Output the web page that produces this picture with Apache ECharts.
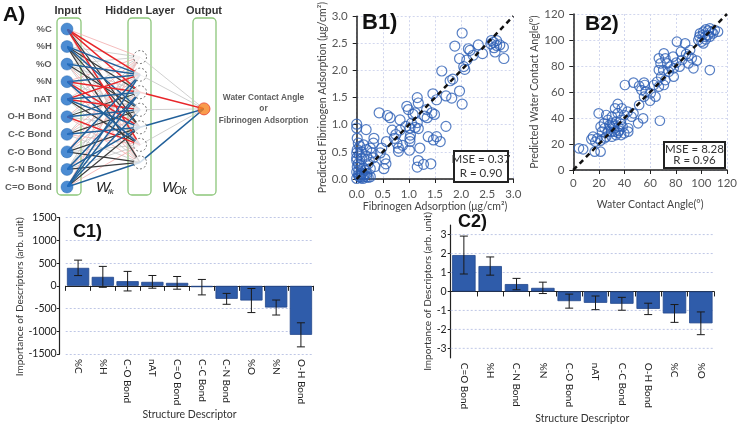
<!DOCTYPE html>
<html><head><meta charset="utf-8">
<script src="https://cdn.jsdelivr.net/npm/echarts@6/dist/echarts.min.js"></script>
<style>html,body{margin:0;padding:0;background:#fff}#c{width:740px;height:425px}</style>
</head><body><div id="c"></div>
<script>
// ---------- Panel A: network ----------
const inputNames = ['%C','%H','%O','%N','nAT','O-H Bond','C-C Bond','C-O Bond','C-N Bond','C=O Bond'];
const layerPos = [0, 0.533, 1];
const hiddenSlots = [1.6, 2.6, 3.6, 4.6, 5.6, 6.6, 7.6];
const outputSlot = 4.55;
const inputToHidden = ['prrgkrp','gbkbkgk','gbgkgpg','pbrgrbp','grbrbkg','pgkbgrp','gpgkbpg','pbpgkgk','ggbpbgk','pbbbkpb'];
const hiddenToOutput = 'ggrgbgb';
const outputName = 'Water Contact Angle\nor\nFibrinogen Adsorption';

// ---------- Panel B1 ----------
const b1Measured = [2.02,1.88,1.97,2.11,2.05,2.07,2.14,2.23,2.33,2.41,2.57,2.62,2.68,2.74,2.63,2.82,2.68,2.58,2.81,2.65,2.17,
1.63,1.79,1.84,1.97,2.02,1.71,1.82,1.46,1.53,1.16,1.18,0.96,0.99,1.12,1.34,1.44,1.30,0.43,0.59,0.64,0.83,1.49,1.35,1.05,1.16,1.12,0.94,1.02,1.18,
0.83,0.75,0.72,1.03,1.02,1.37,1.53,1.47,1.60,1.71,1.21,1.02,0.77,0.80,0.80,0.57,0.48,1.01,0.32,0.45,0.54,0.56,0.52,1.18,1.16,1.28,1.42,0.18,
0.00,0.00,0.01,0.03,0.06,0.01,0.05,0.13,0.19,0.26,0.33,0.32,0.29,0.19,0.10,0.03,0.01,0.00,0.03,0.06,0.13,0.19,0.10,0.16,0.26,0.22,0.35,0.00,
0.05,0.00,0.00,0.00,0.06,0.13,0.19,0.26,0.08,0.15,0.12,0.22,0.04,0.09,0.24,1.08,0.88,0.68];
const b1Predicted = [2.69,2.45,2.22,2.19,2.07,2.02,2.40,2.28,2.47,2.31,2.49,2.52,2.46,2.47,2.42,2.22,2.55,2.55,2.43,2.34,2.37,
1.99,1.81,1.84,1.62,1.38,1.53,1.49,1.57,1.46,1.50,1.40,1.34,1.28,1.22,1.28,1.22,1.16,1.22,1.17,1.13,1.09,1.19,1.13,1.03,1.04,0.95,0.97,0.94,0.93,
0.90,0.82,0.75,0.81,0.75,0.78,0.78,0.72,0.69,0.97,0.57,0.69,0.66,0.57,0.51,0.69,0.57,0.53,0.39,0.48,0.37,0.28,0.19,0.34,0.22,0.27,0.28,0.91,
1.01,0.94,0.75,0.66,0.60,0.54,0.45,0.63,0.54,0.57,0.75,0.66,0.48,0.42,0.37,0.28,0.22,0.13,0.07,0.04,0.04,0.04,0.10,0.16,0.19,0.28,0.23,0.01,
0.05,0.39,0.48,0.34,0.25,0.19,0.10,0.04,0.02,0.08,0.01,0.03,0.15,0.50,0.35,1.19,0.62,0.90];
const b1Stats = 'MSE = 0.37\nR = 0.90';

// ---------- Panel B2 ----------
const b2Measured = [98.9,101.5,103.5,105.3,106.6,107.9,110.5,113,102.8,105.3,101,97.6,100.2,103.5,106.6,109.2,101.5,98.4,106.6,96.4,93.8,92.5,89.9,88.1,87.3,80.9,84,91.2,89.9,84.9,83,80.4,77.9,78.4,
70.7,71.9,66.8,68.1,73.3,75.8,74.5,70.2,66.8,68.6,71.9,78.4,65.5,62.9,66.8,70.7,55.2,55.8,47,51.4,40.3,53.2,56.5,59.9,64.2,60.4,55.2,51.4,54.5,50.6,67.6,47,45.5,42.4,42.9,39.8,37.8,34.7,32.6,34.7,30.1,
19.8,25.7,27,23.9,30.1,33.4,37.3,29,32.1,35.2,38.5,32.1,35.7,29.5,27,24.4,21.3,22.4,39.8,42.9,37.3,33.4,30.1,25.7,18.8,15.4,14.1,17.2,21.3,24.4,21.3,16.7,4.4,7.7,28.3,31.6,37.3,34.9];
const b2Predicted = [105.1,106.4,108.2,107.2,109,106.4,107.7,106.4,102.6,103.8,103.8,100,98.7,100.5,102.6,105.1,97.4,102.6,76.9,84.1,78.2,85.9,82,89.2,97.4,98.7,91,92.3,87.7,84.6,79.5,82.6,87.2,78.2,
89.7,85.9,85.9,82,82,79.5,75.6,76.9,76.9,71.8,69.2,71.8,67.9,65.4,64.1,65.4,67.2,65.4,67.2,64.6,65.4,61.5,60.3,53.3,56.4,59,56.4,50,39.7,35.9,37.9,43.6,41,44.9,32.1,42.3,47.4,50.8,47.4,43.6,41,
43.6,42.3,38.5,35.9,35.9,37.2,38.5,33.3,32.1,33.3,33.3,29.5,30.3,29.5,29.5,32.1,33.3,29.5,28.2,29.5,26.9,26.9,25.6,25.6,24.4,25.6,23.6,21.8,22.6,24.4,14.1,14.1,16.7,15.9,34.6,33.8,35.4,28.7];
const b2Stats = 'MSE = 8.28\nR = 0.96';

// ---------- Panel C1 ----------
const c1Categories = ['%C','%H','C-O Bond','nAT','C=O Bond','C-C Bond','C-N Bond','%O','%N','O-H Bond'];
const c1Values = [396, 198, 103, 88, 66, -29, -286, -323, -477, -1078];
const c1Errors = [170, 230, 215, 140, 140, 170, 120, 265, 165, 265];

// ---------- Panel C2 ----------
const c2Categories = ['C=O Bond','%H','C-N Bond','%N','C-O Bond','nAT','C-C Bond','O-H Bond','%C','%O'];
const c2Values = [1.92, 1.34, 0.39, 0.19, -0.51, -0.60, -0.65, -0.92, -1.16, -1.68];
const c2Errors = [1.0, 0.48, 0.30, 0.30, 0.37, 0.36, 0.34, 0.30, 0.47, 0.60];
const c2Ticks = [-3,-2,-1,0,1,2,3];
const c2GridLines = [-3,-2,-1,1,2,3];

// ---------------- build ----------------
const FONT = 'Lato, "Liberation Sans", sans-serif';
const BOLD = '"Liberation Sans", Arial, sans-serif';
const GRIDC = '#bfc7e6';
const edgeStyle = {
  g:{color:'#c4c4c4',width:0.8,o:0}, p:{color:'#f3abab',width:0.8,o:0},
  k:{color:'#3a3a3a',width:1.2,o:1}, r:{color:'#e8262a',width:1.5,o:2}, b:{color:'#22609a',width:1.5,o:2}
};
const edges = [];
inputToHidden.forEach((row,i)=>{
  row.split('').forEach((c,j)=>{
    edges.push({o:edgeStyle[c].o, coords:[[layerPos[0], i],[layerPos[1], hiddenSlots[j]]], lineStyle:{color:edgeStyle[c].color,width:edgeStyle[c].width,opacity:1}});
  });
});
hiddenToOutput.split('').forEach((c,j)=>{
  edges.push({o:edgeStyle[c].o, coords:[[layerPos[1], hiddenSlots[j]],[layerPos[2], outputSlot]], lineStyle:{color:edgeStyle[c].color,width:edgeStyle[c].width,opacity:1}});
});
edges.sort((a,b)=>a.o-b.o);

function pairs(xs, ys){ return xs.map((x,i)=>[x, ys[i]]); }
function errData(vals, errs){ return vals.map((v,i)=>[i, v-errs[i], v+errs[i]]); }
function errRender(params, api){
  const x = api.value(0), lo = api.value(1), hi = api.value(2);
  const a = api.coord([x, hi]), b = api.coord([x, lo]);
  const w = 4, st = {stroke:'#1a1a1a', lineWidth:1};
  return {type:'group', children:[
    {type:'line', shape:{x1:a[0],y1:a[1],x2:b[0],y2:b[1]}, style:st},
    {type:'line', shape:{x1:a[0]-w,y1:a[1],x2:a[0]+w,y2:a[1]}, style:st},
    {type:'line', shape:{x1:b[0]-w,y1:b[1],x2:b[0]+w,y2:b[1]}, style:st}
  ]};
}
function gridRender(params, api){
  const cs = params.coordSys;
  const y = api.coord([0, api.value(1)])[1];
  return {type:'line', shape:{x1:cs.x, y1:y, x2:cs.x+cs.width, y2:y}, style:{stroke:GRIDC, lineWidth:1, lineDash:[2,2]}};
}

const axLine = {lineStyle:{color:'#222', width:1.5}};
const axTick = {length:4, lineStyle:{color:'#222', width:1}};
const bLabel = {color:'#555', fontSize:11.5, fontFamily:FONT, margin:4};
const bSplit = {lineStyle:{color:'#d2d7ee', type:[2,2], width:1}};
const nameStyle = {color:'#444', fontSize:10.5, fontFamily:FONT};

const option = {
  backgroundColor:'#fff',
  animation:false,
  grid:[
    {left:67, top:29, width:137, height:158},
    {left:356.7, top:9.3, width:156.6, height:169.7},
    {left:573.3, top:14, width:155.7, height:156},
    {left:65.7, top:217.7, width:247.6, height:136.3},
    {left:450.7, top:225.1, width:263.3, height:137.2}
  ],
  xAxis:[
    {gridIndex:0, type:'value', min:0, max:1, show:false},
    {gridIndex:1, type:'value', min:0, max:3, interval:0.5, offset:5, axisLine:axLine, axisTick:axTick,
      axisLabel:Object.assign({formatter:v=>v.toFixed(1)}, bLabel), splitLine:bSplit,
      name:'Fibrinogen Adsorption (μg/cm²)', nameLocation:'middle', nameGap:16, nameTextStyle:nameStyle},
    {gridIndex:2, type:'value', min:0, max:120, interval:20, offset:3.3, axisLine:axLine, axisTick:axTick,
      axisLabel:bLabel, splitLine:bSplit,
      name:'Water Contact Angle(°)', nameLocation:'middle', nameGap:26, nameTextStyle:nameStyle},
    {gridIndex:3, type:'category', data:c1Categories, axisLine:{lineStyle:{color:'#222',width:1.2}},
      axisTick:{show:true, length:5, lineStyle:{color:'#222'}},
      axisLabel:{rotate:-90, fontSize:10, fontFamily:FONT, color:'#222', margin:5, interval:0},
      name:'Structure Descriptor', nameLocation:'middle', nameGap:50, nameTextStyle:{color:'#333',fontSize:10.5,fontFamily:FONT}},
    {gridIndex:4, type:'category', data:c2Categories, axisLine:{lineStyle:{color:'#222',width:1.2}},
      axisTick:{show:true, length:5, lineStyle:{color:'#222'}},
      axisLabel:{rotate:-90, fontSize:10, fontFamily:FONT, color:'#222', margin:5, interval:0},
      name:'Structure Descriptor', nameLocation:'middle', nameGap:50, nameTextStyle:{color:'#333',fontSize:10.5,fontFamily:FONT}}
  ],
  yAxis:[
    {gridIndex:0, type:'value', min:0, max:9, inverse:true, show:false},
    {gridIndex:1, type:'value', min:0, max:3, interval:0.5, offset:5, axisLine:{show:true,lineStyle:{color:'#222',width:1.5}}, axisTick:{show:true,length:4,lineStyle:{color:'#222'}},
      axisLabel:Object.assign({formatter:v=>v.toFixed(1)}, bLabel), splitLine:bSplit,
      name:'Predicted Fibrinogen Adsorption (μg/cm²)', nameLocation:'middle', nameGap:22, nameTextStyle:nameStyle},
    {gridIndex:2, type:'value', min:0, max:120, interval:20, offset:5, axisLine:{show:true,lineStyle:{color:'#222',width:1.5}}, axisTick:{show:true,length:4,lineStyle:{color:'#222'}},
      axisLabel:bLabel, splitLine:bSplit,
      name:'Predicted Water Contact Angle(°)', nameLocation:'middle', nameGap:25, nameTextStyle:nameStyle},
    {gridIndex:3, type:'value', min:-1500, max:1500, interval:500, offset:6,
      axisLine:{show:true,lineStyle:{color:'#222',width:1.2}}, axisTick:{show:true,length:3,lineStyle:{color:'#222'}},
      axisLabel:{fontSize:10.5, fontFamily:FONT, color:'#222', margin:3, formatter:v=>String(v)},
      splitLine:{show:true, lineStyle:{color:GRIDC, type:[2,2], width:1}},
      name:'Importance of Descriptors (arb. unit)', nameLocation:'middle', nameGap:26,
      nameTextStyle:{color:'#333', fontSize:10, fontFamily:FONT, padding:[0,22,0,0]}},
    {gridIndex:4, type:'value', min:-3.5, max:3.5, interval:0.5,
      axisLine:{show:true,lineStyle:{color:'#222',width:1.2}},
      axisTick:{show:true,length:3,lineStyle:{color:'#222'}, customValues:c2Ticks},
      axisLabel:{fontSize:10.5, fontFamily:FONT, color:'#222', margin:4, customValues:c2Ticks,
        formatter:v=>Number.isInteger(v)?String(v):''},
      splitLine:{show:false},
      name:'Importance of Descriptors (arb. unit)', nameLocation:'middle', nameGap:17,
      nameTextStyle:{color:'#333', fontSize:10, fontFamily:FONT}}
  ],
  series:[
    {type:'lines', coordinateSystem:'cartesian2d', xAxisIndex:0, yAxisIndex:0, polyline:false, silent:true, z:1,
      lineStyle:{opacity:1},
      data:edges.map(e=>({coords:e.coords, lineStyle:e.lineStyle}))},
    {type:'scatter', xAxisIndex:0, yAxisIndex:0, z:3, symbolSize:12, silent:true,
      data:inputNames.map((n,i)=>({name:n, value:[layerPos[0], i]})),
      itemStyle:{color:'#1f6fc8', borderColor:'#1a5ea8', borderWidth:0.5},
      label:{show:true, position:'left', distance:9, formatter:'{b}', fontFamily:BOLD, fontWeight:'bold', fontSize:9.5, color:'#333'}},
    {type:'scatter', xAxisIndex:0, yAxisIndex:0, z:3, symbolSize:13, silent:true,
      data:hiddenSlots.map(s=>[layerPos[1], s]),
      itemStyle:{color:'#fff', borderColor:'#555', borderWidth:1, borderType:[2,2]}},
    {type:'scatter', xAxisIndex:0, yAxisIndex:0, z:3, symbolSize:12, silent:true,
      data:[{name:outputName, value:[layerPos[2], outputSlot]}],
      itemStyle:{color:'#f7821f', borderColor:'#e8402a', borderWidth:1},
      label:{show:true, position:'right', distance:53, align:'center', verticalAlign:'middle', formatter:'{b}',
        fontFamily:BOLD, fontWeight:'bold', fontSize:8.3, lineHeight:11.5, color:'#333'}},
    {type:'scatter', xAxisIndex:1, yAxisIndex:1, symbolSize:10, clip:false, z:3,
      data:pairs(b1Measured, b1Predicted),
      itemStyle:{color:'rgba(0,0,0,0)', borderColor:'#2d5fb5', borderWidth:1.2}},
    {type:'line', xAxisIndex:1, yAxisIndex:1, data:[[0,0],[3,3]], symbol:'none', z:4,
      lineStyle:{color:'#111', width:2.5, type:[5,4]}},
    {type:'scatter', xAxisIndex:2, yAxisIndex:2, symbolSize:9.5, clip:false, z:3,
      data:pairs(b2Measured, b2Predicted),
      itemStyle:{color:'rgba(0,0,0,0)', borderColor:'#2d5fb5', borderWidth:1.2}},
    {type:'line', xAxisIndex:2, yAxisIndex:2, data:[[0,0],[120,120]], symbol:'none', z:4,
      lineStyle:{color:'#111', width:2.5, type:[5,4]}},
    {type:'bar', xAxisIndex:3, yAxisIndex:3, data:c1Values, barWidth:'90%', z:2,
      itemStyle:{color:'#2f5caa', borderColor:'#23488c', borderWidth:0.8}},
    {type:'custom', xAxisIndex:3, yAxisIndex:3, data:errData(c1Values, c1Errors), renderItem:errRender, z:5},
    {type:'custom', xAxisIndex:4, yAxisIndex:4, data:c2GridLines.map(v=>[0, v]), renderItem:gridRender, z:1, silent:true, clip:false},
    {type:'bar', xAxisIndex:4, yAxisIndex:4, data:c2Values, barWidth:'89%', z:2,
      itemStyle:{color:'#2f5caa', borderColor:'#23488c', borderWidth:0.8}},
    {type:'custom', xAxisIndex:4, yAxisIndex:4, data:errData(c2Values, c2Errors), renderItem:errRender, z:5}
  ],
  graphic:[
    {type:'rect', shape:{x:57, y:18, width:24, height:177, r:4}, style:{fill:'none', stroke:'#8cc67a', lineWidth:1.3}, z:0},
    {type:'rect', shape:{x:128, y:18, width:23, height:177, r:4}, style:{fill:'none', stroke:'#8cc67a', lineWidth:1.3}, z:0},
    {type:'rect', shape:{x:193, y:18, width:23, height:177, r:4}, style:{fill:'none', stroke:'#8cc67a', lineWidth:1.3}, z:0},
    {type:'text', style:{text:'Input', x:68, y:11, align:'center', verticalAlign:'middle', font:'bold 11px "Liberation Sans", Arial', fill:'#333'}},
    {type:'text', style:{text:'Hidden Layer', x:140, y:11, align:'center', verticalAlign:'middle', font:'bold 11px "Liberation Sans", Arial', fill:'#333'}},
    {type:'text', style:{text:'Output', x:204, y:11, align:'center', verticalAlign:'middle', font:'bold 11px "Liberation Sans", Arial', fill:'#333'}},
    {type:'text', style:{text:'W', x:96, y:188, verticalAlign:'middle', font:'italic 15px "Liberation Sans", Arial', fill:'#222'}},
    {type:'text', style:{text:'ik', x:108, y:192, verticalAlign:'middle', font:'italic 8px "Liberation Sans", Arial', fill:'#222'}},
    {type:'text', style:{text:'W', x:162, y:188, verticalAlign:'middle', font:'italic 15px "Liberation Sans", Arial', fill:'#222'}},
    {type:'text', style:{text:'Ok', x:174, y:191, verticalAlign:'middle', font:'italic 10px "Liberation Sans", Arial', fill:'#222'}},
    {type:'text', style:{text:'A)', x:3, y:15, verticalAlign:'middle', font:'bold 21px "Liberation Sans", Arial', fill:'#111'}},
    {type:'text', style:{text:'B1)', x:362, y:23, verticalAlign:'middle', font:'bold 22px "Liberation Sans", Arial', fill:'#111'}, z:10},
    {type:'text', style:{text:'B2)', x:585, y:24, verticalAlign:'middle', font:'bold 21px "Liberation Sans", Arial', fill:'#111'}, z:10},
    {type:'text', style:{text:'C1)', x:73, y:232, verticalAlign:'middle', font:'bold 18px "Liberation Sans", Arial', fill:'#111'}, z:10},
    {type:'text', style:{text:'C2)', x:458, y:222, verticalAlign:'middle', font:'bold 18px "Liberation Sans", Arial', fill:'#111'}, z:10},
    {type:'rect', shape:{x:454, y:151, width:54, height:31}, style:{fill:'#fff', stroke:'#222', lineWidth:2}, z:20},
    {type:'text', style:{text:b1Stats, x:481, y:166.5, align:'center', verticalAlign:'middle', font:'11.5px Lato, sans-serif', lineHeight:14, fill:'#333'}, z:21},
    {type:'rect', shape:{x:664, y:142, width:61, height:26}, style:{fill:'#fff', stroke:'#222', lineWidth:2}, z:20},
    {type:'text', style:{text:b2Stats, x:694.5, y:155, align:'center', verticalAlign:'middle', font:'11.5px Lato, sans-serif', lineHeight:11.5, fill:'#333'}, z:21}
  ]
};
const chart = echarts.init(document.getElementById('c'), null, {renderer:'canvas'});
chart.setOption(option);
</script></body></html>
